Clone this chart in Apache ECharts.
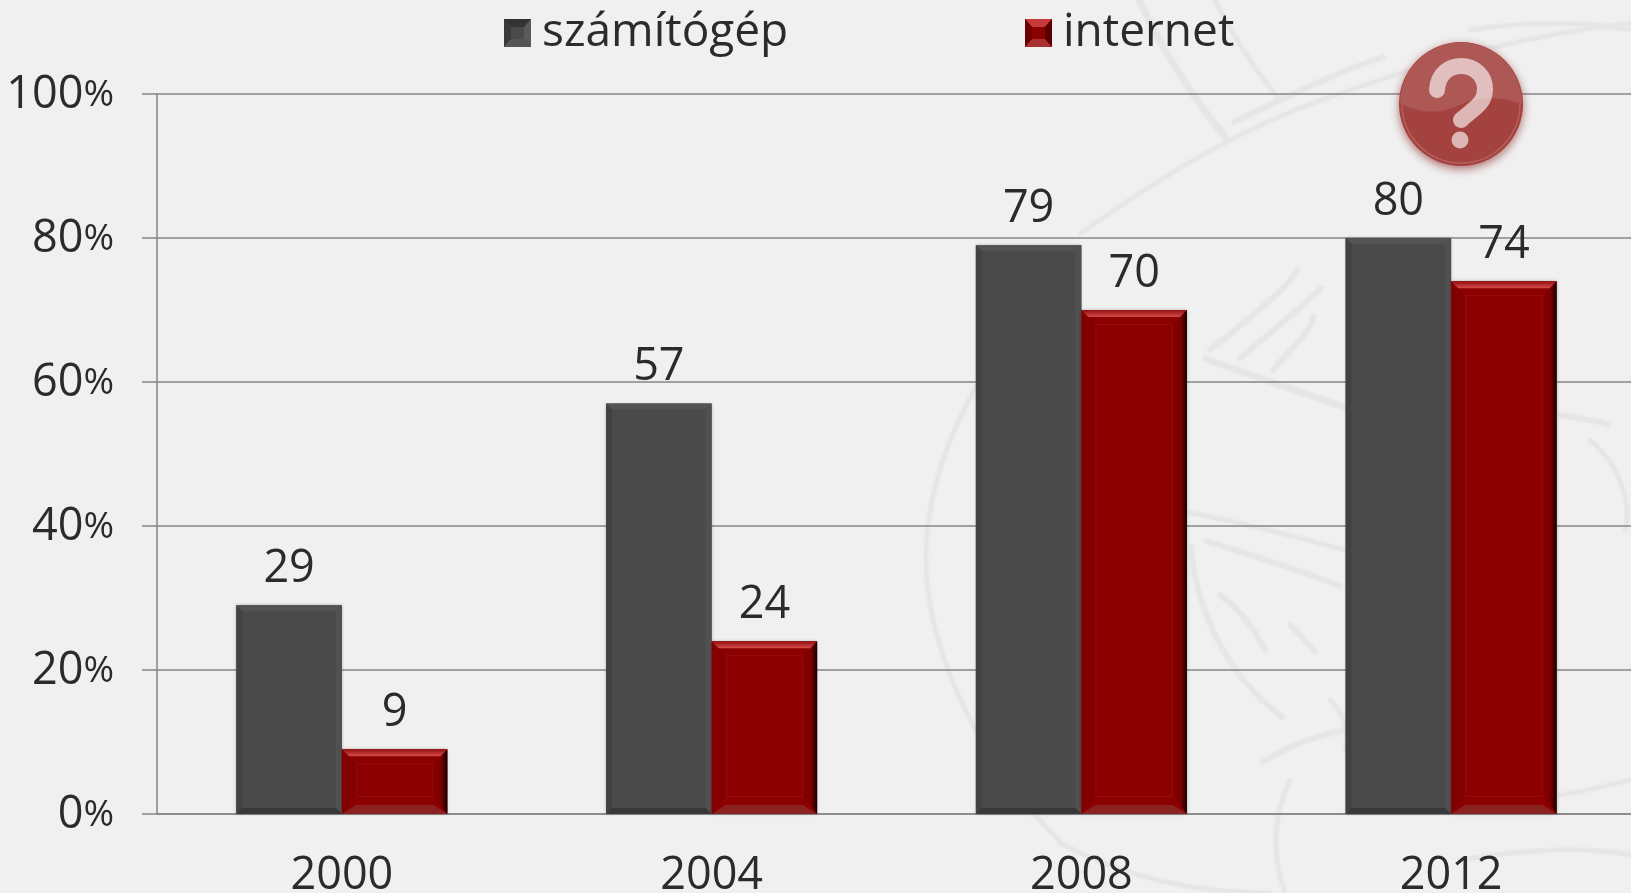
<!DOCTYPE html>
<html>
<head>
<meta charset="utf-8">
<title>számítógép, internet</title>
<style>
  html, body { margin: 0; padding: 0; background: #f0f0f0; }
  #chart { width: 1631px; height: 893px; }
</style>
<script src="https://cdn.jsdelivr.net/npm/echarts@6/dist/echarts.min.js"></script>
</head>
<body>
<div id="chart"></div>
<script>
const years = ['2000', '2004', '2008', '2012'];
const computer = [29, 57, 79, 80];
const internet = [9, 24, 70, 74];
const seriesNames = ['számítógép', 'internet'];

const FONT = '"Open Sans", sans-serif';
const FONT_SIZE = 45;
const TEXT = '#2b2b2b';
const AXIS = '#868686';

// faint engraving behind the plot
const watermark = [
  ['M976 387 C935 460 920 530 928 590 C938 670 985 770 1062 843', 3],
  ['M1081 233 C1150 185 1215 142 1300 108 C1400 70 1520 35 1631 23', 3],
  ['M1234 122 C1280 100 1330 75 1383 57', 4],
  ['M1139 0 C1165 55 1195 100 1225 137', 5],
  ['M1215 0 C1235 40 1255 70 1280 100', 3],
  ['M1206 359 C1250 375 1300 392 1344 407', 5],
  ['M1210 350 C1260 310 1290 285 1297 270', 4],
  ['M1240 358 C1280 325 1310 300 1321 288', 4],
  ['M1273 370 C1295 345 1315 325 1313 316', 4],
  ['M1186 512 C1240 522 1290 535 1344 550', 3],
  ['M1206 541 C1250 555 1300 570 1340 586', 4],
  ['M1191 547 C1195 600 1220 670 1282 717', 4],
  ['M1220 595 C1240 610 1255 630 1265 650', 4],
  ['M1290 625 C1300 635 1310 645 1315 652', 4],
  ['M1263 762 C1290 745 1320 735 1345 730', 4],
  ['M1560 415 C1590 420 1605 422 1608 425', 4],
  ['M1590 440 C1625 470 1631 510 1625 530', 3],
  ['M1060 843 C1130 880 1200 893 1270 893', 3],
  ['M1560 795 C1590 790 1610 785 1631 780', 3],
  ['M1470 30 C1520 22 1580 20 1631 30', 3],
  ['M1290 780 C1275 810 1270 850 1285 893', 3],
  ['M1460 860 C1520 850 1580 845 1631 855', 3],
  ['M1330 700 C1345 715 1350 735 1345 750', 3]
];

function wedge(points, fill) {
  return { type: 'polygon', shape: { points: points }, style: { fill: fill }, silent: true };
}

function vGrad(a, b) {
  return new echarts.graphic.LinearGradient(0, 0, 0, 1, [{ offset: 0, color: a }, { offset: 1, color: b }]);
}

function darkBevel(x, y, w, h) {
  const b = 6;
  return [
    { type: 'rect', shape: { x: x, y: y, width: w, height: h },
      style: { fill: '#4a4a4a', shadowBlur: 3, shadowColor: 'rgba(0,0,0,0.25)' } },
    wedge([[x, y], [x + w, y], [x + w - b, y + b], [x + b, y + b]], '#535353'),
    wedge([[x, y], [x + b, y + b], [x + b, y + h - b], [x, y + h]], '#424242'),
    wedge([[x + w, y], [x + w, y + h], [x + w - b, y + h - b], [x + w - b, y + b]], '#505050'),
    wedge([[x, y + h], [x + b, y + h - b], [x + w - b, y + h - b], [x + w, y + h]], '#383838')
  ];
}

function redBevel(x, y, w, h) {
  const b = 14;
  const tb = Math.min(7, h / 4);
  const bb = Math.min(9, h / 4);
  return [
    { type: 'rect', shape: { x: x, y: y, width: w, height: h },
      style: { fill: '#8b0000', shadowBlur: 3, shadowColor: 'rgba(0,0,0,0.25)' } },
    wedge([[x, y], [x + b, y + tb * 2], [x + b, y + h - bb * 2], [x, y + h]], '#820000'),
    { type: 'polygon', shape: { points: [[x + w, y], [x + w, y + h], [x + w - b, y + h - bb * 2], [x + w - b, y + tb * 2]] },
      style: { fill: new echarts.graphic.LinearGradient(0, 0, 1, 0, [
        { offset: 0, color: '#860000' }, { offset: 0.55, color: '#7a0000' }, { offset: 1, color: '#150000' }
      ]) } },
    wedge([[x, y + h], [x + b, y + h - bb], [x + w - b, y + h - bb], [x + w, y + h]], '#8a2222'),
    { type: 'polygon', shape: { points: [[x, y], [x + w, y], [x + w - tb, y + tb], [x + tb, y + tb]] },
      style: { fill: vGrad('#8f1010', '#d84a4a') } },
    { type: 'rect', shape: { x: x + b + 0.5, y: y + tb * 2 + 0.5, width: w - 2 * b - 1, height: Math.max(h - tb * 2 - bb * 2, 1) },
      style: { fill: 'none', stroke: '#a31a1a', lineWidth: 1, opacity: 0.45 } }
  ];
}

function barRenderer(side, bevel) {
  return function (params, api) {
    const top = api.coord([api.value(0), api.value(1)]);
    const base = api.coord([api.value(0), 0]);
    const w = api.size([1, 0])[0] * 0.2854;
    const x = top[0] + (side < 0 ? -w : 0);
    const h = base[1] - top[1];
    return {
      type: 'group',
      children: bevel(x, top[1], w, h).concat([{
        type: 'text',
        style: {
          x: x + w / 2, y: top[1] - 36, text: String(api.value(1)),
          font: FONT_SIZE + 'px ' + FONT, fill: TEXT, align: 'center', verticalAlign: 'middle'
        }
      }])
    };
  };
}

function renderWatermark() {
  return {
    type: 'group',
    children: watermark.map(([d, lw]) => ({
      type: 'path', silent: true,
      shape: { pathData: d },
      style: { fill: 'none', stroke: '#e6e6e6', lineWidth: lw + 1, lineCap: 'round', shadowBlur: 3, shadowColor: '#e6e6e6' }
    }))
  };
}

function renderButton() {
  return {
    type: 'group',
    children: [
      { type: 'circle', silent: true, shape: { cx: 1461, cy: 104, r: 62 },
        style: { fill: '#a3423e', shadowBlur: 10, shadowOffsetY: 3, shadowColor: 'rgba(130,25,25,0.6)' } },
      { type: 'circle', silent: true, shape: { cx: 1461, cy: 104, r: 59 },
        style: { fill: 'none', stroke: '#b5605c', lineWidth: 1.5 } },
      { type: 'path', silent: true,
        shape: { pathData: 'M1400 103 A61 61 0 0 1 1522 104 C1500 96 1478 96 1455 107 C1436 115 1415 112 1400 103 Z' },
        style: { fill: '#ad5854' } },
      { type: 'path', silent: true,
        shape: { pathData: 'M1437 90 C1438 73 1450 66 1461 66 C1475 66 1485 76 1485 89 C1485 104 1474 108 1461 120' },
        style: { fill: 'none', stroke: 'rgba(255,255,255,0.62)', lineWidth: 16, lineCap: 'round' } },
      { type: 'circle', silent: true, shape: { cx: 1460, cy: 140, r: 8.5 },
        style: { fill: 'rgba(255,255,255,0.62)' } }
    ]
  };
}

function legendIcon(base, top, left, right, bottom) {
  const svg = '<svg xmlns="http://www.w3.org/2000/svg" width="27" height="28">' +
    '<rect width="27" height="28" fill="' + base + '"/>' +
    '<polygon points="0,0 27,0 20,8 7,8" fill="' + top + '"/>' +
    '<polygon points="0,0 7,8 7,20 0,28" fill="' + left + '"/>' +
    '<polygon points="27,0 27,28 20,20 20,8" fill="' + right + '"/>' +
    '<polygon points="0,28 7,20 20,20 27,28" fill="' + bottom + '"/></svg>';
  return 'image://data:image/svg+xml;charset=utf-8,' + encodeURIComponent(svg);
}

function legendAt(left, name, icon) {
  return {
    left: left, top: 5, itemWidth: 27, itemHeight: 28, itemGap: 0,
    data: [{ name: name, icon: icon }],
    selectedMode: false,
    textStyle: { color: TEXT, fontFamily: FONT, fontSize: 46, padding: [14, 0, 0, 6] }
  };
}

const chart = echarts.init(document.getElementById('chart'), null, { renderer: 'canvas' });

chart.setOption({
  animation: false,
  backgroundColor: '#f0f0f0',
  legend: [
    legendAt(499, seriesNames[0], legendIcon('#4a4a4a', '#333333', '#3a3a3a', '#5a5a5a', '#555555')),
    legendAt(1020, seriesNames[1], legendIcon('#8b0000', '#c83a3a', '#6e0000', '#5a0000', '#a83030'))
  ],
  grid: { left: 157, top: 94, width: 1479, height: 720, outerBoundsMode: 'none' },
  xAxis: {
    type: 'category',
    data: years,
    axisLine: { lineStyle: { color: AXIS, width: 1.5 } },
    axisTick: { length: 14, lineStyle: { color: AXIS, width: 1.5 } },
    axisLabel: { color: TEXT, fontFamily: FONT, fontSize: FONT_SIZE, margin: 40 }
  },
  yAxis: {
    type: 'value',
    min: 0,
    max: 100,
    interval: 20,
    axisLine: { show: true, lineStyle: { color: AXIS, width: 1.5 } },
    axisTick: { show: true, length: 15, lineStyle: { color: AXIS, width: 1.5 } },
    axisLabel: {
      color: TEXT, fontFamily: FONT, margin: 43, verticalAlign: 'top',
      formatter: v => '{d|' + v + '}{p|%}',
      rich: {
        d: { fontFamily: FONT, fontSize: FONT_SIZE, color: TEXT, lineHeight: 2 },
        p: { fontFamily: FONT, fontSize: 37, color: TEXT, lineHeight: 2 }
      }
    },
    splitLine: { lineStyle: { color: AXIS, width: 1.5 } }
  },
  series: [
    { name: 'watermark', type: 'custom', clip: false, z: -1, silent: true,
      data: [[years[0], 0]], encode: { x: 0, y: 1 }, renderItem: renderWatermark },
    {
      name: seriesNames[0], type: 'custom', clip: false, z: 5,
      data: years.map((y, i) => [y, computer[i]]),
      encode: { x: 0, y: 1 },
      itemStyle: { color: '#4a4a4a' },
      renderItem: barRenderer(-1, darkBevel)
    },
    {
      name: seriesNames[1], type: 'custom', clip: false, z: 5,
      data: years.map((y, i) => [y, internet[i]]),
      encode: { x: 0, y: 1 },
      itemStyle: { color: '#8b0000' },
      renderItem: barRenderer(1, redBevel)
    },
    { name: 'button', type: 'custom', clip: false, z: 20, silent: true,
      data: [[years[0], 0]], encode: { x: 0, y: 1 }, renderItem: renderButton }
  ]
});
</script>
</body>
</html>
